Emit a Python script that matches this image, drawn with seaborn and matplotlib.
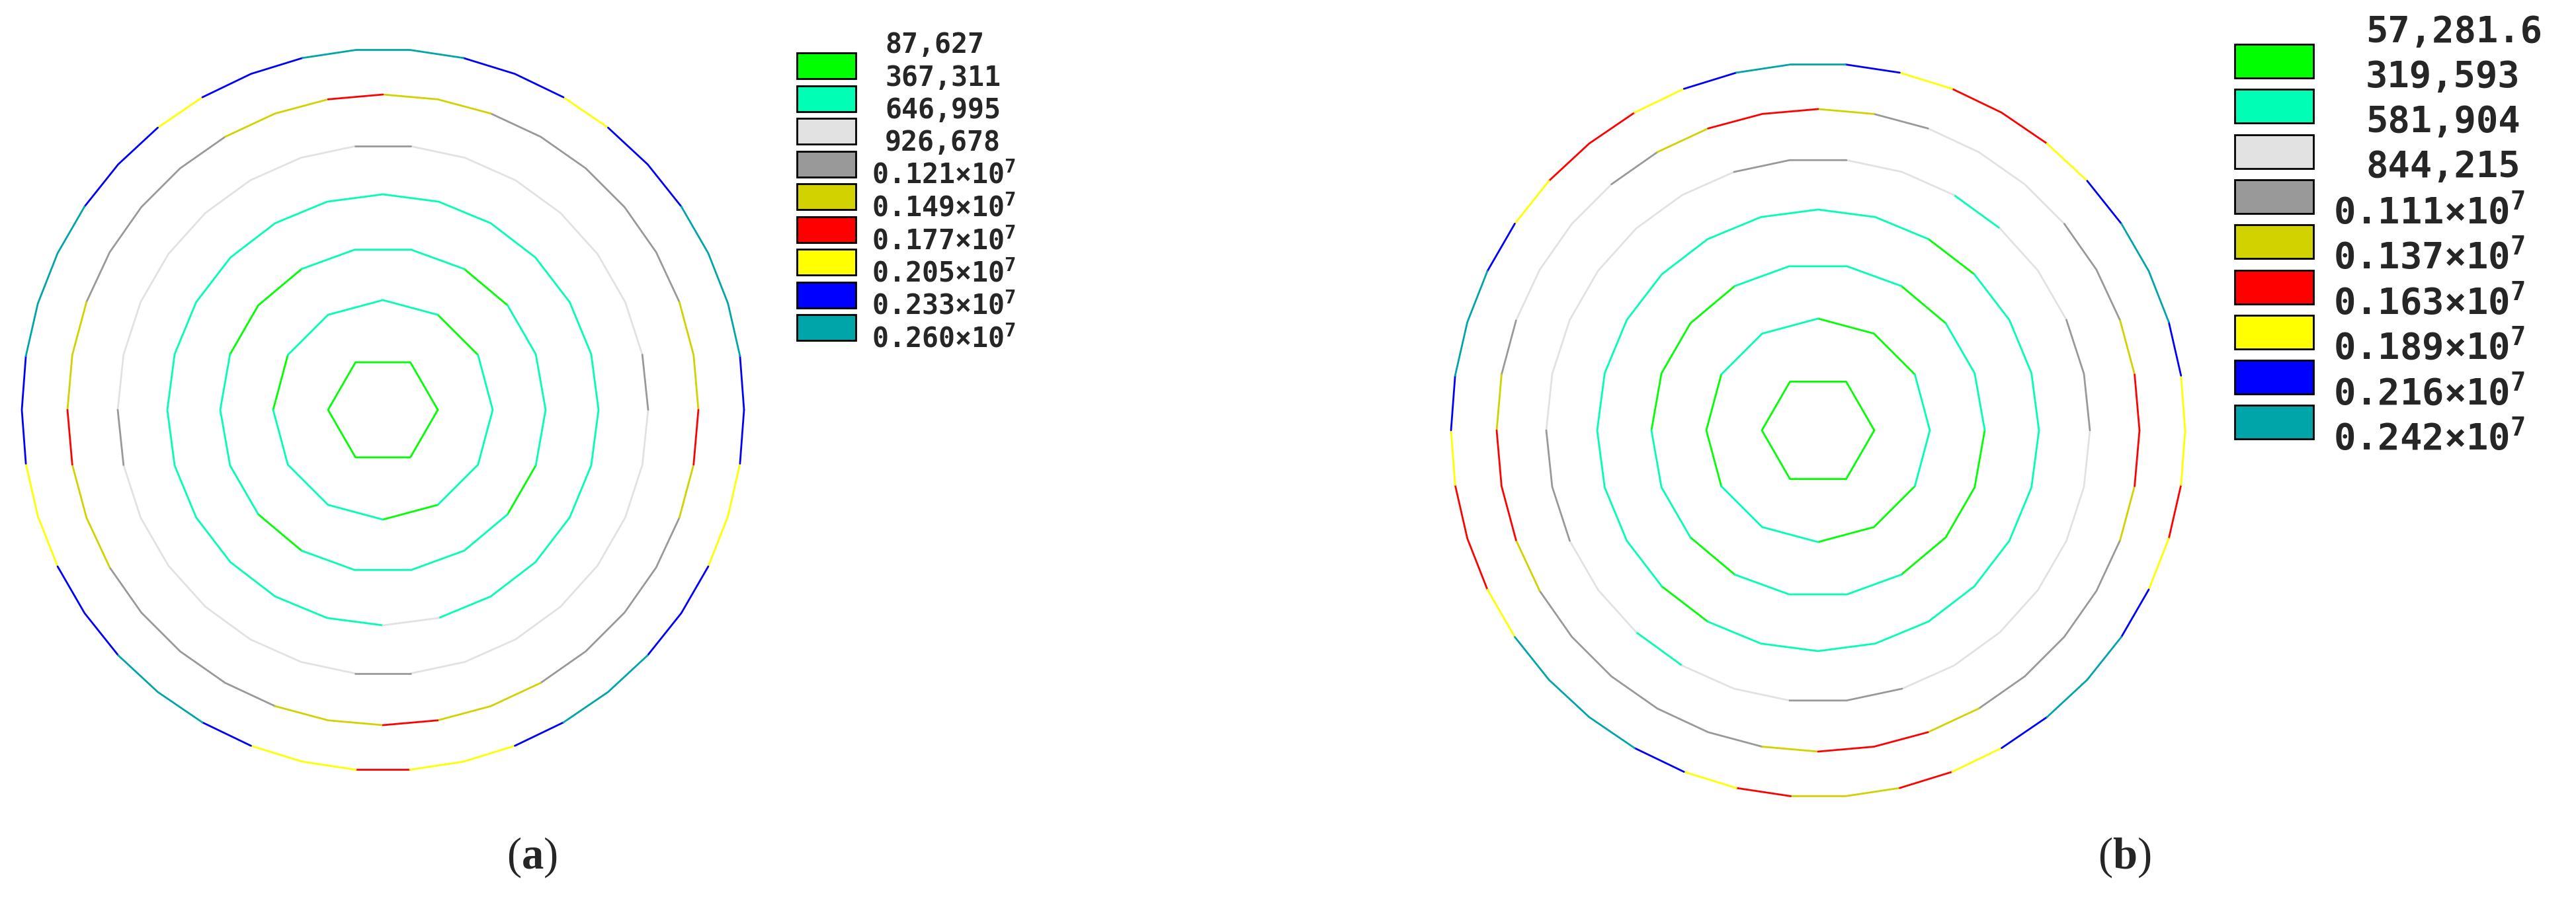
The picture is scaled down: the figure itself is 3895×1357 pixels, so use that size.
import numpy as np
import pandas as pd
import matplotlib
matplotlib.use("Agg")
import matplotlib.pyplot as plt
from matplotlib.patches import Rectangle
import seaborn as sns

# --- legend bands (lowest -> highest stress) ---
band_colors = ["#00ff00", "#00ffb4", "#e2e2e2", "#999999", "#d2d200",
               "#ff0000", "#ffff00", "#0000ff", "#00a5aa"]
labels_a = ["87,627", "367,311", "646,995", "926,678", "0.121", "0.149",
            "0.177", "0.205", "0.233", "0.260"]
labels_b = ["57,281.6", "319,593", "581,904", "844,215", "0.111", "0.137",
            "0.163", "0.189", "0.216", "0.242"]

# --- contour rings, inner -> outer ---
sides = [6, 12, 18, 24, 30, 36, 42]
radii_a = [83, 166, 246, 326, 401, 477, 546]
radii_b = [85, 169, 252, 334, 411, 486, 555]

# band of each polygon edge, run-length coded (band, n_edges), CCW from 0 deg
runs_a = [
    [(0, 6)],
    [(1, 1), (0, 1), (1, 3), (0, 1), (1, 3), (0, 1), (1, 2)],
    [(1, 2), (0, 1), (1, 3), (0, 2), (1, 3), (0, 1), (1, 4), (0, 1), (1, 1)],
    [(1, 18), (2, 1), (1, 5)],
    [(3, 1), (2, 6), (3, 1), (2, 7), (3, 1), (2, 6), (3, 1), (2, 7)],
    [(4, 2), (3, 5), (4, 2), (5, 1), (4, 2), (3, 4), (4, 2), (5, 1), (4, 2),
     (3, 4), (4, 2), (5, 1), (4, 2), (3, 4), (4, 1), (5, 1)],
    [(7, 1), (8, 3), (7, 2), (6, 1), (7, 2), (8, 3), (7, 2), (6, 1), (7, 2),
     (8, 3), (7, 2), (6, 2), (7, 2), (8, 2), (7, 1), (6, 2), (5, 1), (6, 2),
     (7, 1), (8, 2), (7, 2), (6, 2), (7, 1)],
]
runs_b = [
    [(0, 6)],
    [(1, 1), (0, 2), (1, 2), (0, 2), (1, 2), (0, 2), (1, 1)],
    [(1, 2), (0, 1), (1, 3), (0, 3), (1, 2), (0, 1), (1, 3), (0, 3)],
    [(1, 3), (0, 1), (1, 11), (0, 1), (1, 8)],
    [(3, 2), (2, 2), (1, 1), (2, 2), (3, 2), (2, 6), (3, 2), (2, 2), (1, 1),
     (2, 2), (3, 2), (2, 6)],
    [(5, 1), (4, 1), (3, 2), (2, 3), (3, 1), (4, 1), (5, 2), (4, 1), (3, 1),
     (2, 3), (3, 1), (4, 1), (5, 2), (4, 1), (3, 5), (4, 1), (5, 2), (4, 1),
     (3, 4), (4, 1), (5, 1)],
    [(6, 1), (7, 1), (8, 2), (7, 1), (6, 1), (5, 2), (6, 1), (7, 1), (8, 2),
     (7, 1), (6, 1), (5, 2), (6, 1), (7, 1), (8, 2), (7, 1), (6, 1), (5, 2),
     (6, 1), (8, 3), (7, 1), (6, 1), (5, 1), (4, 2), (5, 1), (6, 1), (7, 1),
     (8, 2), (7, 1), (6, 1), (5, 1), (6, 1)],
]

W, H = 3895, 1357
MONO = ["DejaVu Sans Mono", "DejaVu Sans"]


def ring_frame(cx, cy, radii, runs, tag):
    rows = []
    for r, n, ring_runs in zip(radii, sides, runs):
        k = 0
        for j, (band, cnt) in enumerate(ring_runs):
            ang = 2 * np.pi * np.arange(k, k + cnt + 1) / n
            for a in ang:
                rows.append((f"{tag}{n}_{j}", band, cx + r * np.cos(a), cy - r * np.sin(a)))
            k += cnt
    return pd.DataFrame(rows, columns=["seg", "band", "x", "y"])


def draw_legend(ax, x0, y_lab0, dy, box_top0, box_h, box_w, labels, fs, x_txt, x_exp):
    for i in range(9):
        ax.add_patch(Rectangle((x0, box_top0 + i * dy), box_w, box_h,
                               facecolor=band_colors[i], edgecolor="black", lw=2))
    for i, lab in enumerate(labels):
        y = y_lab0 + i * dy
        if i < 4:
            ax.text(x_txt, y, lab, ha="left", va="center", fontsize=fs,
                    family=MONO, weight="bold")
        else:
            ax.text(x_exp, y, lab + "\u00d710" + r"$^{\mathrm{7}}$", ha="left", va="center",
                    fontsize=fs, family=MONO, weight="bold")


sns.set_theme(style="white")
plt.rcParams["mathtext.fontset"] = "custom"
plt.rcParams["mathtext.rm"] = "DejaVu Sans Mono:bold"
plt.rcParams["mathtext.bf"] = "Liberation Serif:bold"

fig = plt.figure(figsize=(W / 100, H / 100), dpi=100)
ax = fig.add_axes([0, 0, 1, 1])

pal = {i: c for i, c in enumerate(band_colors)}
df = pd.concat([ring_frame(579, 620, radii_a, runs_a, "a"),
                ring_frame(2749, 651, radii_b, runs_b, "b")], ignore_index=True)
sns.lineplot(data=df, x="x", y="y", hue="band", units="seg", estimator=None,
             sort=False, palette=pal, legend=False, lw=2.0, ax=ax)

draw_legend(ax, 1205, 68, 49.5, 80, 39, 89, labels_a, 30, 1338, 1318)
draw_legend(ax, 3379, 48, 68.3, 67, 51, 119, labels_b, 40, 3577, 3528)

for x, letter in [(804, "a"), (3212, "b")]:
    ax.text(x, 1297, "(" + r"$\mathbf{" + letter + "}$" + ")", ha="center", va="center",
            fontsize=48, family="Liberation Serif")

ax.set_xlim(0, W)
ax.set_ylim(H, 0)
ax.axis("off")
fig.savefig("out.png", dpi=100, facecolor="white")
